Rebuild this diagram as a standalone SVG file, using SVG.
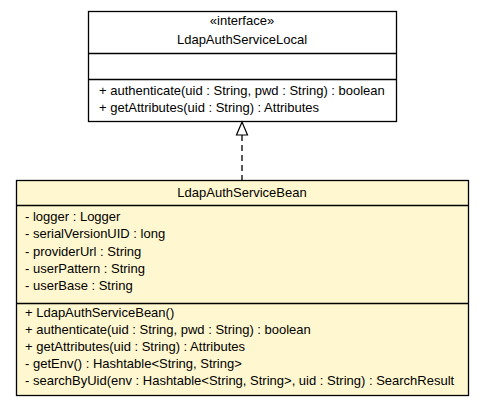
<svg xmlns="http://www.w3.org/2000/svg" width="484" height="405" viewBox="0 0 484 405">
<style>
text{font-family:"Liberation Sans",Arial,sans-serif;font-size:13px;fill:#000}
.c{text-anchor:middle}
.box{stroke:#000;stroke-width:1.3}
.sep{stroke:#000;stroke-width:1.3}
</style>
<rect width="484" height="405" fill="#fff"/>
<g id="LdapAuthServiceLocal">
<rect class="box" x="88.5" y="11.5" width="308" height="110" fill="#fff"/>
<line class="sep" x1="88.5" y1="53.5" x2="396.5" y2="53.5"/>
<line class="sep" x1="88.5" y1="79.5" x2="396.5" y2="79.5"/>
<text class="c" x="242" y="25">«interface»</text>
<text class="c" x="242" y="44">LdapAuthServiceLocal</text>
<text x="99" y="95">+ authenticate(uid : String, pwd : String) : boolean</text>
<text x="99" y="112">+ getAttributes(uid : String) : Attributes</text>
</g>
<g id="LdapAuthServiceBean">
<rect class="box" x="16.5" y="180.5" width="452" height="215" fill="#fff7d0"/>
<line class="sep" x1="16.5" y1="205.5" x2="468.5" y2="205.5"/>
<line class="sep" x1="16.5" y1="303.5" x2="468.5" y2="303.5"/>
<text class="c" x="242" y="197">LdapAuthServiceBean</text>
<text x="25" y="221">- logger : Logger</text>
<text x="25" y="238">- serialVersionUID : long</text>
<text x="25" y="256">- providerUrl : String</text>
<text x="25" y="273">- userPattern : String</text>
<text x="25" y="290">- userBase : String</text>
<text x="25" y="317">+ LdapAuthServiceBean()</text>
<text x="25" y="334">+ authenticate(uid : String, pwd : String) : boolean</text>
<text x="25" y="351">+ getAttributes(uid : String) : Attributes</text>
<text x="25" y="368">- getEnv() : Hashtable&lt;String, String&gt;</text>
<text x="25" y="385">- searchByUid(env : Hashtable&lt;String, String&gt;, uid : String) : SearchResult</text>
</g>
<g id="connectors">
<line x1="242" y1="135" x2="242" y2="180" stroke="#000" stroke-width="1.3" stroke-dasharray="6,4"/>
<polygon points="242,122 236.5,135 247.5,135" fill="#fff" stroke="#000" stroke-width="1.2"/>
</g>
</svg>
